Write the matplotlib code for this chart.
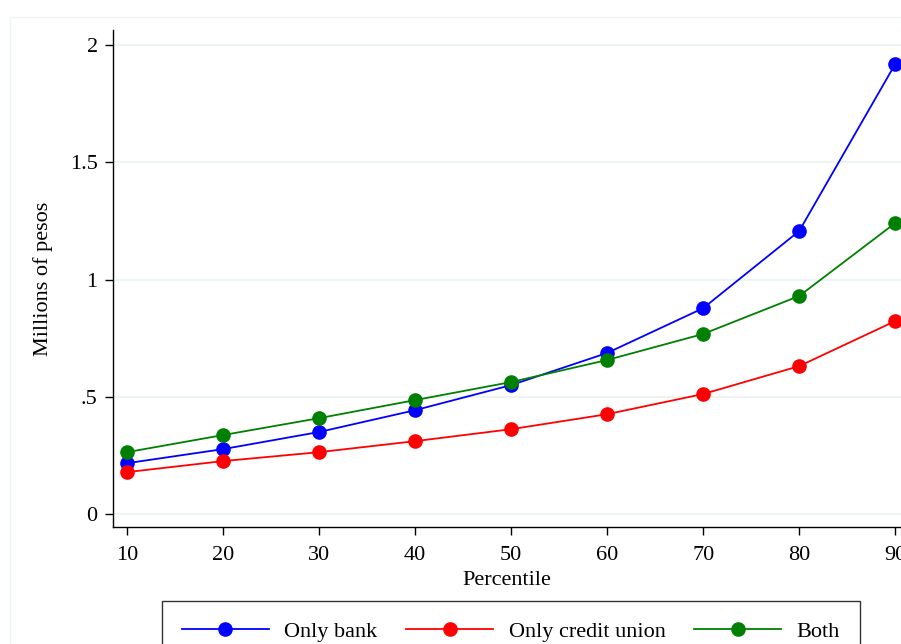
import matplotlib.pyplot as plt
from matplotlib.patches import Rectangle

# Percentiles and values (millions of pesos)
percentile = [10, 20, 30, 40, 50, 60, 70, 80, 90]
only_bank = [0.217, 0.277, 0.350, 0.443, 0.550, 0.687, 0.878, 1.207, 1.919]
only_cu = [0.179, 0.226, 0.264, 0.311, 0.362, 0.426, 0.512, 0.631, 0.823]
both = [0.264, 0.337, 0.409, 0.486, 0.563, 0.657, 0.768, 0.930, 1.241]

yticks = [0, 0.5, 1, 1.5, 2]
ytick_labels = ["0", ".5", "1", "1.5", "2"]

plt.rcParams['font.family'] = ['Liberation Serif', 'DejaVu Serif']
fs = 16

fig = plt.figure(figsize=(9.01, 6.44), dpi=100)

# faint outer border of the graph region
fig.patches.append(Rectangle((10 / 901, -0.1), 1.2, 1 - 17 / 644 + 0.1,
                             transform=fig.transFigure, fill=False,
                             edgecolor='#eef3f3', linewidth=1))

ax = fig.add_axes([113 / 901, 1 - 527 / 644, 1 - 113 / 901, (527 - 30) / 644])

kw = dict(marker='o', markersize=9.5, linewidth=1.3, clip_on=False)
ax.plot(percentile, only_bank, color='#0000ff', label="Only bank", **kw)
ax.plot(percentile, only_cu, color='#ff0000', label="Only credit union", **kw)
ax.plot(percentile, both, color='#008000', label="Both", **kw)

ax.set_xlim(8.54, 90.6)
ax.set_ylim(-0.055, 2.064)
ax.set_xticks(percentile)
ax.set_yticks(yticks)
ax.set_yticklabels(ytick_labels)
ax.grid(axis='y', color='#eaf2f3', linewidth=1.2)
ax.set_axisbelow(True)

for s in ['top', 'right']:
    ax.spines[s].set_visible(False)
for s in ['left', 'bottom']:
    ax.spines[s].set_linewidth(1.0)
ax.tick_params(direction='out', length=6, width=1, labelsize=fs, pad=5)
ax.tick_params(axis='x', pad=8)

ax.set_xlabel("Percentile", fontsize=fs, labelpad=4)
ax.set_ylabel("Millions of pesos", fontsize=fs, labelpad=12)

leg = fig.legend(loc='upper center', bbox_to_anchor=(511 / 901, 1 - 601 / 644),
                 ncol=3, fontsize=fs, frameon=True, fancybox=False,
                 edgecolor='black', handlelength=3.9, columnspacing=1.3,
                 borderpad=0.9, handletextpad=0.7, borderaxespad=0)
leg.get_frame().set_linewidth(1.0)

fig.savefig("out.png", dpi=100)
